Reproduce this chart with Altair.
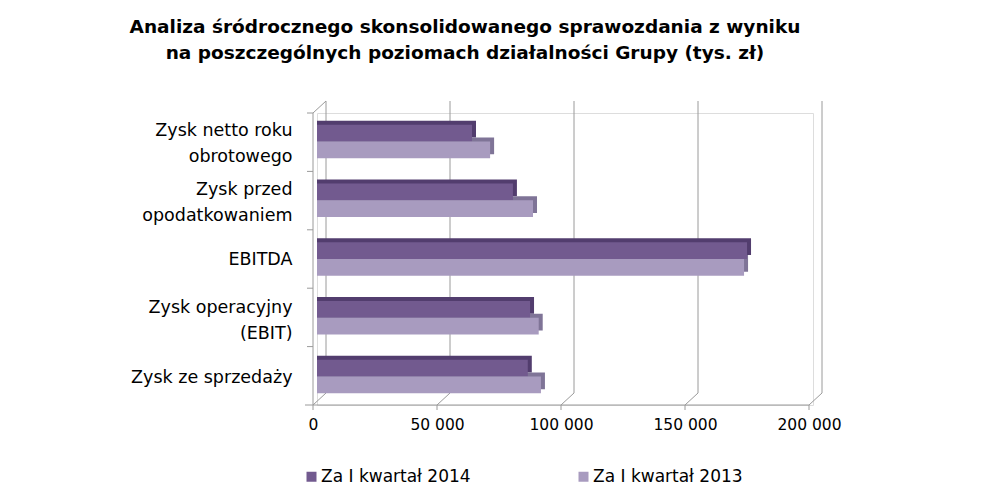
import altair as alt
import pandas as pd

categories = ["Zysk netto roku|obrotowego", "Zysk przed|opodatkowaniem", "EBITDA",
              "Zysk operacyjny|(EBIT)", "Zysk ze sprzedaży"]
series = ["Za I kwartał 2014", "Za I kwartał 2013"]
values_2014 = [62500, 79000, 173400, 85900, 85000]
values_2013 = [69800, 87100, 172200, 89400, 90300]
x_ticks = [0, 50000, 100000, 150000, 200000]

front_colors = ["#725a8f", "#a89bbf"]
shadow_colors = ["#523d6e", "#7f7497"]

rows = []
for c, a, b in zip(categories, values_2014, values_2013):
    rows.append({"cat": c, "series": series[0], "value": a})
    rows.append({"cat": c, "series": series[1], "value": b})
df = pd.DataFrame(rows)
ticks_df = pd.DataFrame({"v": x_ticks})
one = pd.DataFrame({"a": [0], "b": [200000]})
cats_df = pd.DataFrame({"cat": categories})

W, H = 496, 292
PI, PO = 0.43, 0.2
GRAY = "#9a9a9a"
FONT = "DejaVu Sans"

xs = alt.Scale(domain=[0, 200000], nice=False, zero=True)
x_axis = alt.Axis(values=x_ticks, labelExpr="replace(format(datum.value, ','), ',', ' ')",
                  domain=False, ticks=False, grid=False, labelOffset=-4, labelPadding=12,
                  labelFlush=False, labelOverlap=False,
                  labelFontSize=15.5, labelColor="black", labelFont=FONT, title=None)
ys = alt.Scale(domain=categories, paddingInner=PI, paddingOuter=PO)
ys_shadow = alt.Scale(domain=categories, paddingInner=PI, paddingOuter=PO, range=[-4, H - 4])
yo = alt.YOffset("series:N", sort=series, scale=alt.Scale(domain=series))

back_grid = alt.Chart(ticks_df).mark_rule(color=GRAY, xOffset=9).encode(
    x=alt.X("v:Q", scale=xs, axis=x_axis), y=alt.value(-12), y2=alt.value(280))
floor_diag = alt.Chart(ticks_df).mark_rule(color=GRAY, xOffset=-4, x2Offset=9).encode(
    x=alt.X("v:Q", scale=xs, axis=x_axis), x2="v:Q", y=alt.value(H), y2=alt.value(280))
front_ticks = alt.Chart(ticks_df).mark_rule(color=GRAY, xOffset=-4).encode(
    x=alt.X("v:Q", scale=xs, axis=x_axis), y=alt.value(H), y2=alt.value(H + 5))
floor_edge = alt.Chart(one).mark_rule(color=GRAY, xOffset=-4, x2Offset=-4).encode(
    x=alt.X("a:Q", scale=xs, axis=x_axis), x2="b:Q", y=alt.value(H))
y_line = alt.Chart(one).mark_rule(color=GRAY).encode(
    x=alt.value(-4), y=alt.value(0), y2=alt.value(H))
top_diag = alt.Chart(one).mark_rule(color=GRAY).encode(
    x=alt.value(-4), x2=alt.value(9), y=alt.value(0), y2=alt.value(-12))
y_ticks = alt.Chart(cats_df).mark_rule(color=GRAY).encode(
    y=alt.Y("cat:N", bandPosition=0, scale=alt.Scale(domain=categories, padding=0), axis=None),
    x=alt.value(-10), x2=alt.value(-4))
y_tick_bottom = alt.Chart(one).mark_rule(color=GRAY).encode(
    x=alt.value(-12), x2=alt.value(-4), y=alt.value(H))

shadow = alt.Chart(df).mark_bar(xOffset=4, x2Offset=4).encode(
    x=alt.X("value:Q", stack=None, scale=xs, axis=x_axis),
    y=alt.Y("cat:N", sort=categories, scale=ys_shadow, axis=None),
    yOffset=yo,
    color=alt.Color("series:N", scale=alt.Scale(domain=series, range=shadow_colors), legend=None),
)

front = alt.Chart(df).mark_bar().encode(
    x=alt.X("value:Q", stack=None, scale=xs, axis=x_axis),
    y=alt.Y("cat:N", sort=categories, scale=ys,
            axis=alt.Axis(labelExpr="split(datum.label, '|')", domain=False, ticks=False, grid=False,
                          labelPadding=25, labelFontSize=17.5, labelLineHeight=26, labelColor="black",
                          labelOffset=alt.condition("indexof(datum.value, '|') >= 0", alt.value(-10), alt.value(1)),
                          labelFont=FONT, labelLimit=300, title=None)),
    yOffset=yo,
    color=alt.Color("series:N", scale=alt.Scale(domain=series, range=front_colors),
                    legend=alt.Legend(orient="none", legendX=-14, legendY=355, direction="horizontal",
                                      title=None, symbolType="square", symbolSize=100,
                                      symbolStrokeWidth=0, labelFontSize=17, labelFont=FONT,
                                      labelColor="black", columnPadding=104, labelOffset=1,
                                      labelLimit=300)),
)

chart = alt.layer(
    back_grid, floor_diag, front_ticks, floor_edge, y_line, top_diag, y_ticks, y_tick_bottom,
    shadow, front,
).resolve_scale(y="independent", color="independent").properties(
    width=W, height=H,
    padding={"left": 309, "top": 105, "right": 163, "bottom": 86},
    autosize=alt.AutoSizeParams(type="none"),
    title=alt.Title(
        text=["Analiza śródrocznego skonsolidowanego sprawozdania z wyniku",
              "na poszczególnych poziomach działalności Grupy (tys. zł)"],
        font=FONT, fontSize=18.5, fontWeight="bold", color="black", anchor="middle",
        dx=-100, offset=38, lineHeight=26,
    ),
).configure_view(stroke=None).configure(font=FONT)

chart.save("out.html", embed_options={"renderer": "svg", "actions": False})
